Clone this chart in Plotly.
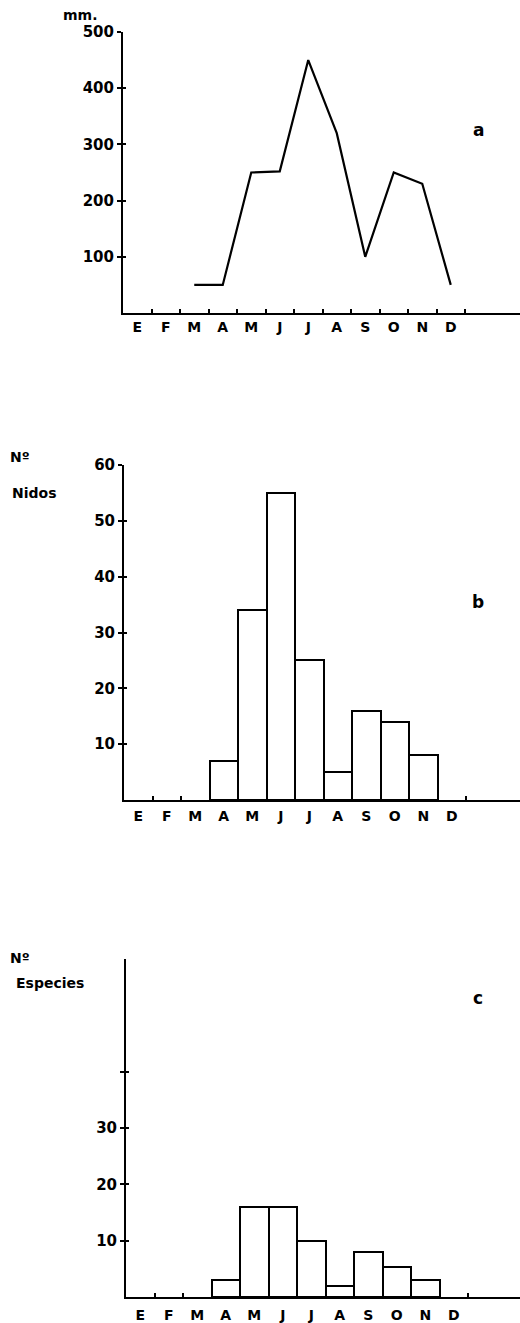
import plotly.graph_objects as go

# ---- data ----
months = ["E", "F", "M", "A", "M", "J", "J", "A", "S", "O", "N", "D"]
rainfall_mm = [None, None, 50, 50, 250, 252, 450, 320, 100, 250, 230, 50]
nests = [None, None, None, 7, 34, 55, 25, 5, 16, 14, 8, None]
species = [None, None, None, 3, 16, 16, 10, 2, 8, 5.3, 3, None]

ticks_a = [100, 200, 300, 400, 500]
ticks_b = [10, 20, 30, 40, 50, 60]
ticks_c = [10, 20, 30, 40]
ticktext_c = ["10", "20", "30", ""]

W, H = 520, 1323
FONT = "DejaVu Sans"
idx = list(range(len(months)))
bounds = [i + 0.5 for i in idx]


def py(p):
    return 1 - p / H


def px(p):
    return p / W


fig = go.Figure()

# panel a: line
fig.add_trace(go.Scatter(x=idx, y=rainfall_mm, mode="lines",
                         line=dict(color="black", width=2.2),
                         xaxis="x", yaxis="y", showlegend=False,
                         connectgaps=False, hoverinfo="skip"))
# panel b: bars
fig.add_trace(go.Bar(x=idx, y=nests, width=1, marker=dict(color="white",
                     line=dict(color="black", width=2)),
                     xaxis="x2", yaxis="y2", showlegend=False))
# panel c: bars
fig.add_trace(go.Bar(x=idx, y=species, width=1, marker=dict(color="white",
                     line=dict(color="black", width=2)),
                     xaxis="x3", yaxis="y3", showlegend=False))

# invisible traces for overlay axes (labels / inner ticks)
for k in (4, 5, 6):
    fig.add_trace(go.Scatter(x=[0], y=[0], mode="markers",
                             marker=dict(opacity=0), xaxis=f"x{k}", yaxis=f"y{k}",
                             showlegend=False, hoverinfo="skip"))

panels = [
    # (base suffix, overlay suffix, x0 px, bottom px, top px, yrange, tickvals, ticktext, label standoff)
    ("", "4", 123, 313, 32, [0, 500], ticks_a, [str(t) for t in ticks_a], 4),
    ("2", "5", 124, 800, 465, [0, 60], ticks_b, [str(t) for t in ticks_b], 6),
    ("3", "6", 126, 1297, 959, [0, 60], ticks_c, ticktext_c, 8),
]

tickfont = dict(family=FONT, size=15, color="black", weight="bold")
monthfont = dict(family=FONT, size=14, color="black", weight="bold")
layout = {}
for base, ov, x0, bot, top, yr, tv, tt, so in panels:
    xr = [-0.5, (W - x0) / 28.5 - 0.5]
    xdom = [px(x0), 1.0]
    ydom = [py(bot), py(top)]
    layout["xaxis" + base] = dict(
        domain=xdom, range=xr, anchor="y" + base, automargin=False,
        showline=True, linecolor="black", linewidth=2,
        showgrid=False, zeroline=False,
        tickmode="array", tickvals=bounds, ticktext=[""] * len(bounds),
        ticks="inside", ticklen=4, tickwidth=2, tickcolor="black",
        fixedrange=True,
    )
    layout["yaxis" + base] = dict(
        domain=ydom, range=yr, anchor="x" + base, automargin=False,
        showline=True, linecolor="black", linewidth=2,
        showgrid=False, zeroline=False,
        tickmode="array", tickvals=tv, ticktext=tt,
        ticks="outside", ticklen=4, tickwidth=2, tickcolor="black",
        tickfont=tickfont, fixedrange=True,
    )
    layout["xaxis" + ov] = dict(
        overlaying="x" + base, range=xr, anchor="y" + ov, automargin=False,
        showline=False, showgrid=False, zeroline=False,
        tickmode="array", tickvals=idx, ticktext=months,
        ticks="", tickfont=monthfont, ticklabelstandoff=so, fixedrange=True,
    )
    layout["yaxis" + ov] = dict(
        overlaying="y" + base, range=yr, anchor="x" + ov, automargin=False,
        showline=False, showgrid=False, zeroline=False,
        tickmode="array", tickvals=tv, ticktext=[""] * len(tv),
        ticks="inside", ticklen=3, tickwidth=2, tickcolor="black",
        fixedrange=True,
    )

fig.update_layout(**layout)

labfont = dict(family=FONT, size=14, color="black", weight="bold")
panfont = dict(family=FONT, size=17, color="black", weight="bold")
annots = [
    ("mm.", 80, 15, labfont),
    ("a", 478, 130, panfont),
    ("Nº", 20, 457, labfont),
    ("Nidos", 34, 493, labfont),
    ("b", 478, 602, panfont),
    ("Nº", 20, 958, labfont),
    ("Especies", 50, 983, labfont),
    ("c", 478, 998, panfont),
]
fig.update_layout(annotations=[
    dict(text=t, x=px(xp), y=py(yp), xref="paper", yref="paper",
         xanchor="center", yanchor="middle", showarrow=False, font=f)
    for t, xp, yp, f in annots
])

fig.update_layout(
    width=W, height=H,
    margin=dict(l=0, r=0, t=0, b=0, pad=0, autoexpand=False),
    paper_bgcolor="white", plot_bgcolor="white",
    bargap=0, showlegend=False,
)

fig.write_html(
    "out.html",
    config={"displayModeBar": False},
    post_script=(
        "document.body.style.margin='0';document.body.style.padding='0';"
        "document.body.style.overflow='hidden';"
        "var d=document.getElementById('{plot_id}');"
        "d.style.position='absolute';d.style.top='0px';d.style.left='0px';"
    ),
)
